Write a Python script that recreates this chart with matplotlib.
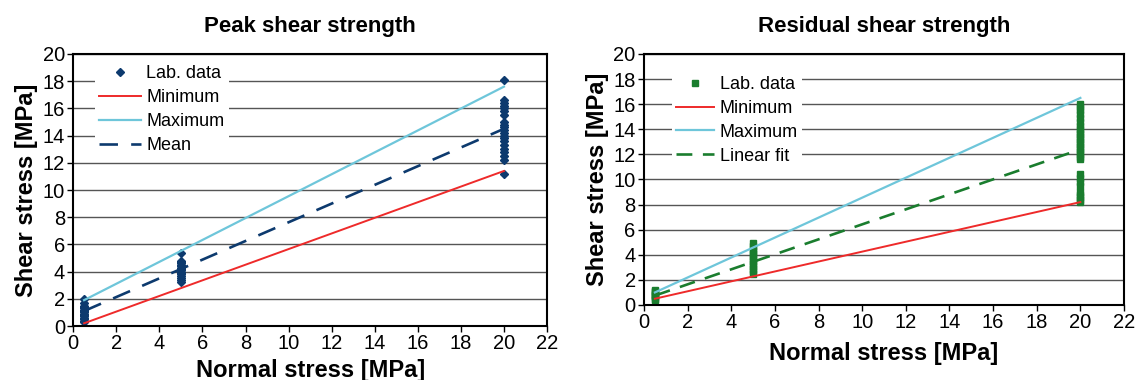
import matplotlib
matplotlib.use('Agg')
import matplotlib.pyplot as plt

plt.rcParams['font.family'] = ['Liberation Sans', 'DejaVu Sans']

# Peak shear strength - lab data
peak_x05 = [0.3, 0.4, 0.5, 0.6, 0.7, 0.8, 0.9, 1.0, 1.1, 1.2, 1.3, 1.4, 1.5, 1.7, 2.0]
peak_x5 = [3.2, 3.4, 3.5, 3.7, 3.8, 3.9, 4.0, 4.1, 4.2, 4.3, 4.4, 4.5, 4.6, 4.7, 4.8, 5.4]
peak_x20 = [11.2, 12.2, 12.5, 12.8, 13.0, 13.3, 13.6, 13.8, 14.0, 14.2, 14.4, 14.6,
            14.8, 15.0, 15.5, 15.8, 16.0, 16.2, 16.4, 16.6, 18.1]
peak_line_x = [0.5, 20]
peak_min = [0.2, 11.4]
peak_max = [1.9, 17.6]
peak_mean = [1.1, 14.5]

# Residual shear strength - lab data
res_x05 = [0.4, 0.5, 0.6, 0.7, 0.8, 0.9, 1.0, 1.1, 1.2]
res_x5 = [2.5, 2.7, 2.9, 3.1, 3.3, 3.5, 3.7, 3.9, 4.1, 4.3, 4.5, 4.7, 4.9]
res_x20 = [8.2, 8.4, 8.6, 8.8, 9.0, 9.5, 9.8, 10.1, 10.4, 11.6, 11.8, 12.0, 12.2,
           12.4, 12.6, 12.8, 13.0, 13.2, 13.4, 13.6, 13.8, 14.0, 14.3, 14.6, 14.9,
           15.2, 15.5, 15.8, 16.0]
res_line_x = [0.5, 20]
res_min = [0.5, 8.2]
res_max = [1.0, 16.5]
res_fit = [0.75, 12.4]

navy = '#0d3a6e'
green = '#1a7d2e'
red = '#ee2a2a'
cyan = '#6ec6da'

fig = plt.figure(figsize=(11.38, 3.8), dpi=100)
ax1 = fig.add_axes([0.0644, 0.1421, 0.4163, 0.7158])
ax2 = fig.add_axes([0.5659, 0.1974, 0.4218, 0.6605])


def style(ax, title, xpad):
    ax.set_xlim(0, 22)
    ax.set_ylim(0, 20)
    ax.set_xticks(range(0, 23, 2))
    ax.set_yticks(range(0, 21, 2))
    ax.yaxis.grid(True, color='#555555', linewidth=1.0)
    ax.set_axisbelow(True)
    for s in ax.spines.values():
        s.set_linewidth(1.5)
        s.set_color('black')
    ax.tick_params(labelsize=14.5, length=4, width=1, pad=2)
    ax.set_title(title, fontsize=16, fontweight='bold', pad=16)
    ax.set_xlabel('Normal stress [MPa]', fontsize=17, fontweight='bold', labelpad=xpad)
    ax.set_ylabel('Shear stress [MPa]', fontsize=17, fontweight='bold', labelpad=3)


# Left: peak
ax1.plot([0.5] * len(peak_x05) + [5] * len(peak_x5) + [20] * len(peak_x20),
         peak_x05 + peak_x5 + peak_x20, linestyle='none', marker='D',
         markersize=4.5, color=navy, label='Lab. data')
ax1.plot(peak_line_x, peak_min, color=red, linewidth=1.4, label='Minimum')
ax1.plot(peak_line_x, peak_max, color=cyan, linewidth=1.6, label='Maximum')
ax1.plot(peak_line_x, peak_mean, color=navy, linewidth=1.9, dashes=(7, 5), label='Mean')
style(ax1, 'Peak shear strength', 4)
ax1.legend(loc='upper left', bbox_to_anchor=(0.045, 0.975), fontsize=13,
           frameon=True, fancybox=False, framealpha=1, edgecolor='none',
           handlelength=2.3, handletextpad=0.3, labelspacing=0.38,
           borderpad=0.25, borderaxespad=0)

# Right: residual
ax2.plot([0.5] * len(res_x05) + [5] * len(res_x5) + [20] * len(res_x20),
         res_x05 + res_x5 + res_x20, linestyle='none', marker='s',
         markersize=4.5, color=green, label='Lab. data')
ax2.plot(res_line_x, res_min, color=red, linewidth=1.4, label='Minimum')
ax2.plot(res_line_x, res_max, color=cyan, linewidth=1.6, label='Maximum')
ax2.plot(res_line_x, res_fit, color=green, linewidth=1.9, dashes=(6, 4), label='Linear fit')
style(ax2, 'Residual shear strength', 7)
ax2.legend(loc='upper left', bbox_to_anchor=(0.058, 0.93), fontsize=13,
           frameon=True, fancybox=False, framealpha=1, edgecolor='none',
           handlelength=2.1, handletextpad=0.3, labelspacing=0.38,
           borderpad=0.25, borderaxespad=0)

plt.savefig('out.png', dpi=100)
